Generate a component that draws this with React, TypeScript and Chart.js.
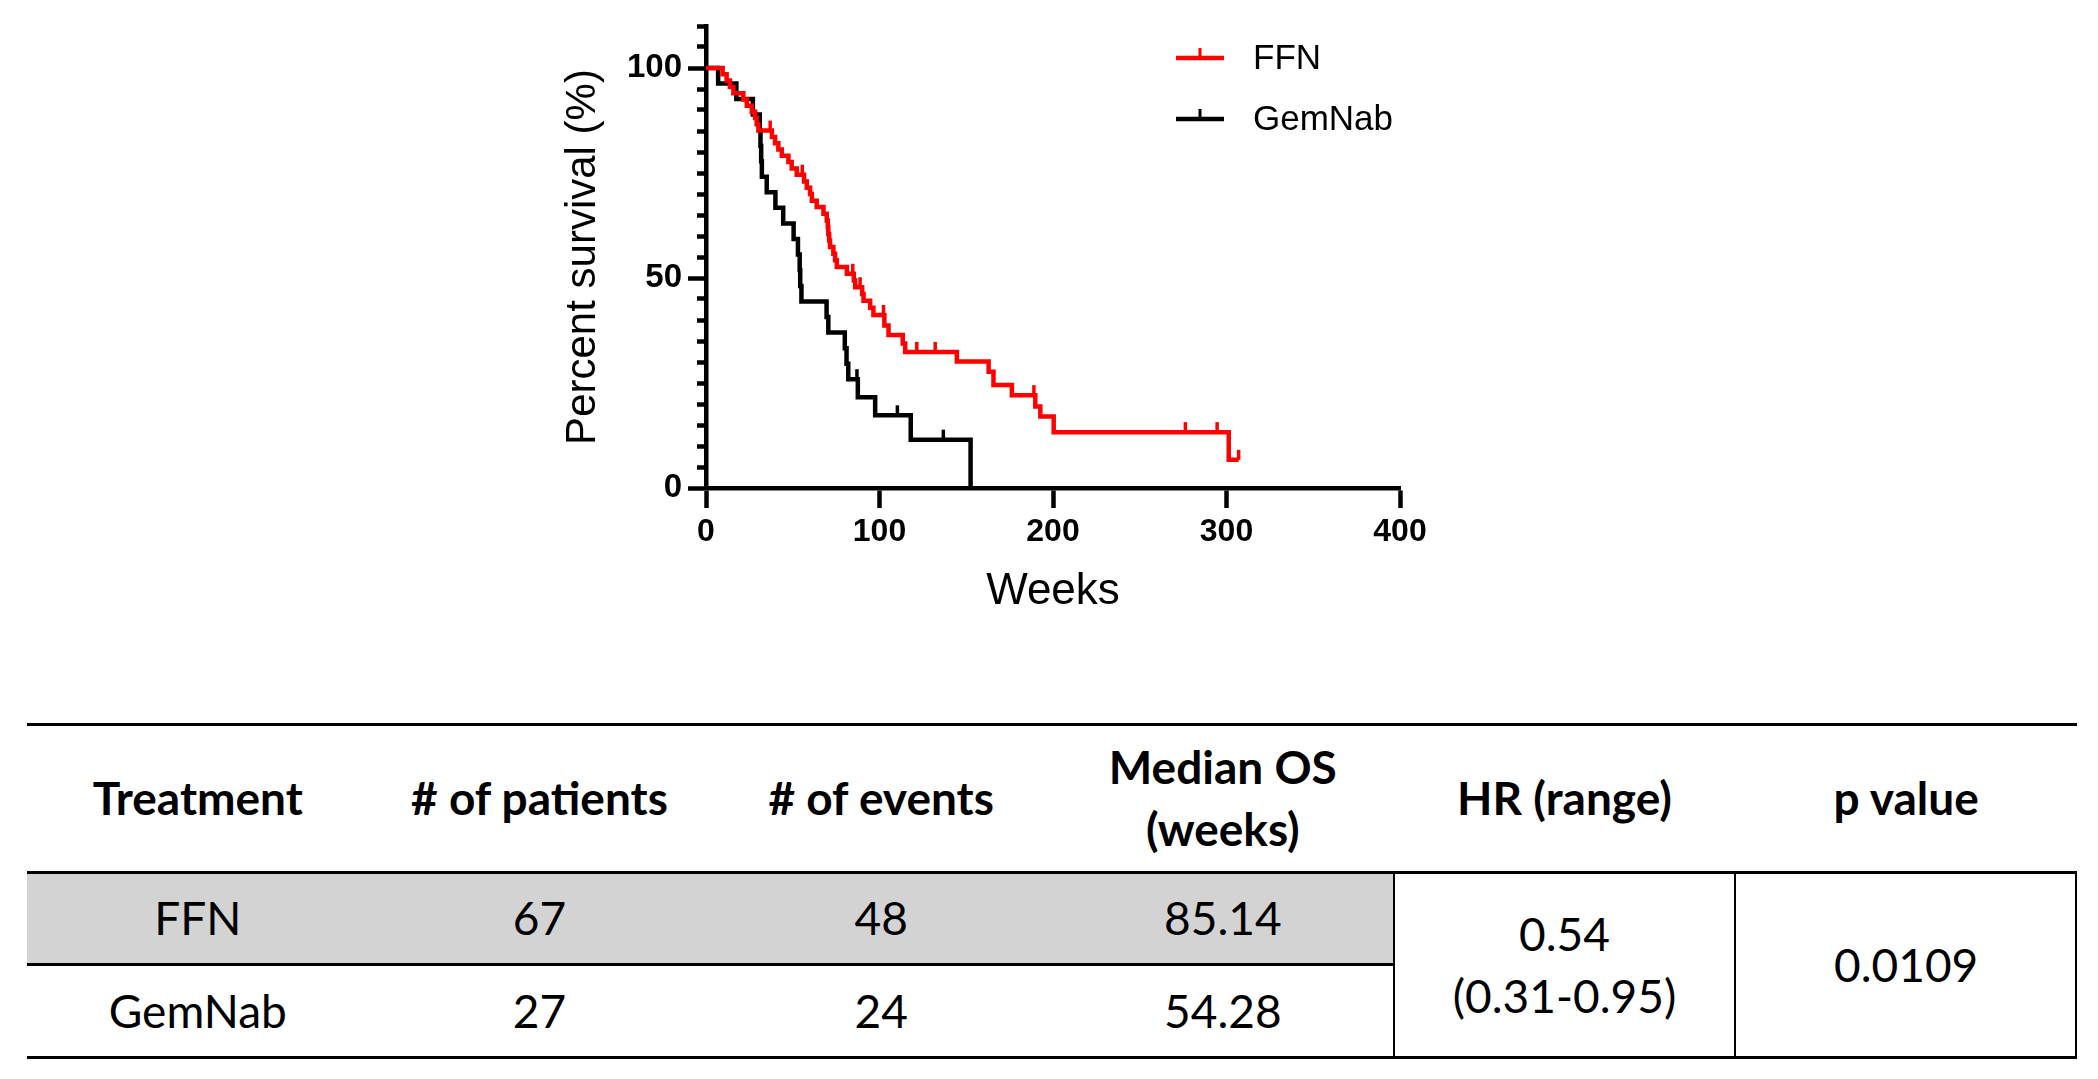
import React, { useEffect, useRef } from "react";
import { Chart, registerables } from "chart.js";

Chart.register(...registerables);

// ---------------- data ----------------
const seriesNames = ["FFN", "GemNab"];
const seriesColors = ["#ff0000", "#000000"];

const xMin = 0;
const xMax = 400;
const xStep = 100;
const yMin = 0;
const yMax = 110;
const yStep = 5;
const yLabelEvery = 50;

// FFN Kaplan-Meier steps (weeks, survival % after the step)
const ffnWeeks = [0, 9.6, 11.9, 13.8, 15.8, 21.5, 23.5, 26.4, 28.3, 29.2, 30.2, 38.0, 39.8, 41.7, 43.7, 47.5, 49.4, 52.3, 56.5, 58.1, 60.0, 61.0, 63.8, 67.7, 69.6, 70.2, 70.5, 71.0, 71.5, 73.4, 74.4, 75.4, 81.2, 85.2, 86.0, 90.0, 90.8, 94.6, 96.5, 102.8, 105.2, 113.4, 114.8, 144.6, 162.9, 165.7, 176.3, 189.8, 192.7, 200.4, 301.3, 307.0];
const ffnSurvival = [100, 98.5, 97.0, 95.5, 94.0, 92.5, 91.0, 89.6, 88.1, 86.6, 85.1, 83.6, 82.1, 80.6, 79.1, 77.6, 76.1, 74.6, 73.0, 71.5, 70.0, 68.4, 66.9, 65.3, 63.7, 62.1, 60.5, 58.9, 57.4, 55.8, 54.2, 52.6, 51.0, 49.4, 47.8, 46.2, 44.6, 42.9, 41.2, 38.7, 36.4, 34.4, 32.4, 30.1, 27.7, 24.5, 22.1, 19.4, 17.0, 13.3, 6.7, 6.7];
const ffnCensorWeeks = [37.0, 55.5, 84.6, 88.8, 102.3, 121.5, 132.1, 189.0, 276.3, 294.6, 307.0];

// GemNab Kaplan-Meier steps
const gemWeeks = [0, 7.0, 17.5, 27.0, 31.0, 31.4, 31.8, 32.2, 35.0, 40.0, 44.5, 50.5, 53.0, 54.0, 54.3, 55.0, 69.5, 70.5, 80.0, 81.0, 82.0, 87.5, 97.5, 118.0, 152.5];
const gemSurvival = [100, 96.3, 92.6, 88.9, 85.2, 81.5, 77.8, 74.1, 70.4, 66.7, 63.0, 59.3, 55.6, 51.9, 48.1, 44.4, 40.7, 37.0, 33.3, 29.6, 25.9, 21.6, 17.3, 11.5, 0];
const gemCensorWeeks = [87.0, 110.3, 136.8];

// table
const tableHeaders = ["Treatment", "# of patients", "# of events", "Median OS\n(weeks)", "HR (range)", "p value"];
const treatments = ["FFN", "GemNab"];
const patientCounts = ["67", "27"];
const eventCounts = ["48", "24"];
const medianOS = ["85.14", "54.28"];
const hazardRatio = "0.54\n(0.31-0.95)";
const pValue = "0.0109";

// ---------------- helpers ----------------
function survivalAt(weeks: number[], surv: number[], t: number): number {
  let s = surv[0];
  for (let i = 0; i < weeks.length; i++) {
    if (weeks[i] <= t) s = surv[i];
  }
  return s;
}

function toPoints(weeks: number[], surv: number[]) {
  return weeks.map((x, i) => ({ x, y: surv[i] }));
}

function censorPoints(cw: number[], weeks: number[], surv: number[]) {
  return cw.map((x) => ({ x, y: survivalAt(weeks, surv, x) }));
}

const FONT = '"Liberation Sans", Arial, sans-serif';
const TABLE_FONT = 'Lato, "Open Sans", sans-serif';
const LINE_W = 4.5;

const legendPlugin = {
  id: "kmLegend",
  afterDraw(chart: any) {
    const ctx = chart.ctx as CanvasRenderingContext2D;
    const rows = [58, 119];
    ctx.save();
    seriesNames.forEach((name, i) => {
      const y = rows[i];
      ctx.strokeStyle = seriesColors[i];
      ctx.lineWidth = 4.5;
      ctx.beginPath();
      ctx.moveTo(1176, y);
      ctx.lineTo(1224, y);
      ctx.stroke();
      ctx.lineWidth = 3;
      ctx.beginPath();
      ctx.moveTo(1200, y);
      ctx.lineTo(1200, y - 10);
      ctx.stroke();
      ctx.fillStyle = "#000";
      ctx.font = `35px ${FONT}`;
      ctx.textBaseline = "middle";
      ctx.textAlign = "left";
      ctx.fillText(name, 1253, y + 1);
    });
    ctx.restore();
  },
};

function KMChart() {
  const ref = useRef<HTMLCanvasElement | null>(null);
  useEffect(() => {
    const canvas = ref.current;
    if (!canvas) return;
    const chart = new Chart(canvas, {
      type: "line",
      data: {
        datasets: [
          {
            label: seriesNames[0],
            data: toPoints(ffnWeeks, ffnSurvival),
            borderColor: seriesColors[0],
            borderWidth: LINE_W,
            stepped: "before",
            pointRadius: 0,
            fill: false,
          },
          {
            label: seriesNames[0] + " censored",
            data: censorPoints(ffnCensorWeeks, ffnWeeks, ffnSurvival),
            showLine: false,
            pointStyle: "dash",
            pointRotation: -90,
            pointRadius: 10,
            pointBorderWidth: 3.5,
            pointBorderColor: seriesColors[0],
            pointBackgroundColor: seriesColors[0],
          },
          {
            label: seriesNames[1],
            data: toPoints(gemWeeks, gemSurvival),
            borderColor: seriesColors[1],
            borderWidth: LINE_W,
            stepped: "before",
            pointRadius: 0,
            fill: false,
          },
          {
            label: seriesNames[1] + " censored",
            data: censorPoints(gemCensorWeeks, gemWeeks, gemSurvival),
            showLine: false,
            pointStyle: "dash",
            pointRotation: -90,
            pointRadius: 10,
            pointBorderWidth: 3.5,
            pointBorderColor: seriesColors[1],
            pointBackgroundColor: seriesColors[1],
          },
        ] as any,
      },
      options: {
        animation: false,
        responsive: false,
        events: [],
        layout: { padding: { left: 558, right: 698, top: 26, bottom: 5 } },
        plugins: { legend: { display: false }, tooltip: { enabled: false } },
        scales: {
          x: {
            type: "linear",
            min: xMin,
            max: xMax,
            ticks: {
              stepSize: xStep,
              autoSkip: false,
              maxRotation: 0,
              padding: 5,
              color: "#000",
              font: { family: FONT, size: 32, weight: "bold" },
              callback: (v: any) => String(v),
            },
            grid: {
              drawOnChartArea: false,
              drawTicks: true,
              tickLength: 20,
              tickWidth: LINE_W,
              tickColor: "#000",
              color: "#000",
            },
            border: { display: true, color: "#000", width: LINE_W },
            title: {
              display: true,
              text: "Weeks",
              color: "#000",
              font: { family: FONT, size: 44 },
              padding: 0,
            },
            afterFit: (s: any) => {
              s.height = 130;
            },
          },
          y: {
            type: "linear",
            min: yMin,
            max: yMax,
            ticks: {
              stepSize: yStep,
              autoSkip: false,
              padding: 6,
              color: "#000",
              font: { family: FONT, size: 33, weight: "bold" },
              callback: (v: any) => (Number(v) % yLabelEvery === 0 ? String(v) : ""),
            },
            grid: {
              drawOnChartArea: false,
              drawTicks: true,
              tickLength: 18,
              tickWidth: LINE_W,
              tickColor: "#000",
              color: "#000",
              tickBorderDash: (c: any) =>
                c.tick && Number(c.tick.value) % yLabelEvery !== 0 ? [0, 9, 9, 0] : [],
            },
            border: { display: true, color: "#000", width: LINE_W },
            title: {
              display: true,
              text: "Percent survival (%)",
              color: "#000",
              font: { family: FONT, size: 42 },
              padding: 0,
            },
            afterFit: (s: any) => {
              s.width = 148;
            },
          },
        },
      } as any,
      plugins: [legendPlugin],
    });
    return () => chart.destroy();
  }, []);
  return (
    <canvas
      ref={ref}
      width={2098}
      height={623}
      style={{ position: "absolute", left: 0, top: 0, width: 2098, height: 623 }}
    />
  );
}

// ---------------- table ----------------
const T_LEFT = 27;
const T_RIGHT = 2077;
const COL_W = (T_RIGHT - T_LEFT) / 6;
const Y_TOP = 724;
const Y_HEAD = 872;
const Y_ROW1 = 964;
const Y_BOTTOM = 1057;

function Cell(props: {
  left: number;
  top: number;
  width: number;
  height: number;
  text: string;
  bold?: boolean;
  bg?: string;
}) {
  return (
    <div
      style={{
        position: "absolute",
        left: props.left,
        top: props.top,
        width: props.width,
        height: props.height,
        background: props.bg || "transparent",
        display: "flex",
        alignItems: "center",
        justifyContent: "center",
        textAlign: "center",
        whiteSpace: "pre-line",
        fontFamily: TABLE_FONT,
        fontSize: 46,
        fontWeight: props.bold ? 700 : 400,
        lineHeight: "62px",
        color: "#000",
      }}
    >
      {props.text}
    </div>
  );
}

function HLine(props: { x1: number; x2: number; y: number; w: number }) {
  return (
    <div
      style={{
        position: "absolute",
        left: props.x1,
        top: props.y - props.w / 2,
        width: props.x2 - props.x1,
        height: props.w,
        background: "#000",
      }}
    />
  );
}

function VLine(props: { x: number; y1: number; y2: number; w: number }) {
  return (
    <div
      style={{
        position: "absolute",
        left: props.x - props.w / 2,
        top: props.y1,
        width: props.w,
        height: props.y2 - props.y1,
        background: "#000",
      }}
    />
  );
}

function SummaryTable() {
  const rowTops = [Y_HEAD, Y_ROW1];
  const rowHeights = [Y_ROW1 - Y_HEAD, Y_BOTTOM - Y_ROW1];
  const rowCols = [treatments, patientCounts, eventCounts, medianOS];
  return (
    <>
      <div
        style={{
          position: "absolute",
          left: T_LEFT,
          top: Y_HEAD,
          width: COL_W * 4,
          height: Y_ROW1 - Y_HEAD,
          background: "#d3d3d3",
        }}
      />
      {tableHeaders.map((h, i) => (
        <Cell key={"h" + i} left={T_LEFT + i * COL_W} top={Y_TOP} width={COL_W} height={Y_HEAD - Y_TOP} text={h} bold />
      ))}
      {treatments.map((_, r) =>
        rowCols.map((col, c) => (
          <Cell
            key={"r" + r + "c" + c}
            left={T_LEFT + c * COL_W}
            top={rowTops[r]}
            width={COL_W}
            height={rowHeights[r]}
            text={col[r]}
          />
        ))
      )}
      <Cell left={T_LEFT + 4 * COL_W} top={Y_HEAD} width={COL_W} height={Y_BOTTOM - Y_HEAD} text={hazardRatio} />
      <Cell left={T_LEFT + 5 * COL_W} top={Y_HEAD} width={COL_W} height={Y_BOTTOM - Y_HEAD} text={pValue} />
      <HLine x1={T_LEFT} x2={T_RIGHT} y={Y_TOP} w={3} />
      <HLine x1={T_LEFT} x2={T_RIGHT} y={Y_HEAD} w={3} />
      <HLine x1={T_LEFT} x2={T_LEFT + 4 * COL_W} y={Y_ROW1} w={3} />
      <HLine x1={T_LEFT} x2={T_RIGHT} y={Y_BOTTOM} w={3} />
      <VLine x={T_LEFT + 4 * COL_W} y1={Y_HEAD} y2={Y_BOTTOM} w={2} />
      <VLine x={T_LEFT + 5 * COL_W} y1={Y_HEAD} y2={Y_BOTTOM} w={2} />
      <VLine x={T_RIGHT - 1} y1={Y_HEAD} y2={Y_BOTTOM} w={2} />
    </>
  );
}

export default function App() {
  return (
    <div
      style={{
        position: "absolute",
        left: 0,
        top: 0,
        width: 2098,
        height: 1079,
        background: "#fff",
        overflow: "hidden",
      }}
    >
      <KMChart />
      <SummaryTable />
    </div>
  );
}
